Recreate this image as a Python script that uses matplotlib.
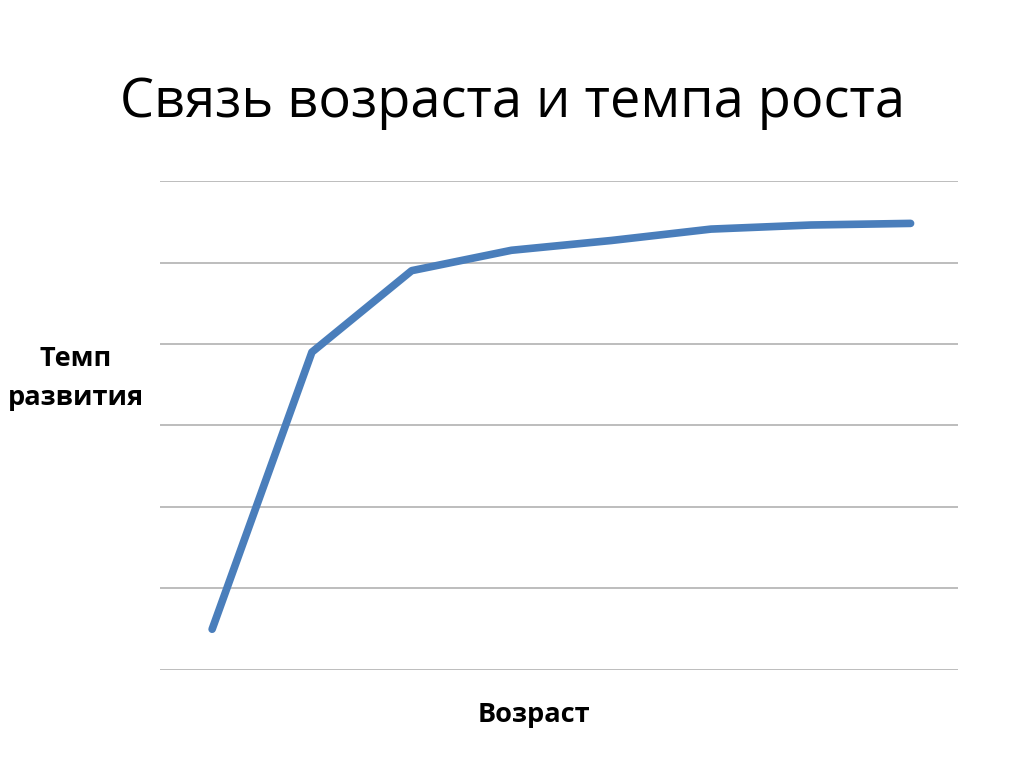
import numpy as np
import matplotlib
matplotlib.use('Agg')
from matplotlib import pyplot as plt

plt.rcParams['font.family'] = ['Open Sans', 'DejaVu Sans']

# данные кривой (значения по оси, без подписей делений)
ages = np.arange(1, 9)
rate = [0.5, 3.9, 4.9, 5.15, 5.27, 5.41, 5.46, 5.48]
y_ticks = [0, 1, 2, 3, 4, 5, 6]

fig = plt.figure(figsize=(10.24, 7.67), dpi=100)
ax = fig.add_axes([0.156, 0.1265, 0.78, 0.6375])

ax.plot(ages, rate, color='#4a7ebb', lw=5.5, solid_capstyle='round', solid_joinstyle='round', zorder=3)

ax.set_xlim(0.475, 8.48)
ax.set_ylim(0, 6)
ax.set_yticks(y_ticks)
ax.set_xticks([])
ax.yaxis.grid(True, color='#b8b8b8', lw=1.3)
ax.tick_params(axis='y', length=0, labelleft=False)
for s in ax.spines.values():
    s.set_visible(False)

fig.text(0.5, 0.867, 'Связь возраста и темпа роста', ha='center', va='center', fontsize=39)
fig.text(0.074, 0.507, 'Темп\nразвития', ha='center', va='center', fontsize=19.5,
         fontweight='bold', linespacing=1.65)
fig.text(0.521, 0.068, 'Возраст', ha='center', va='center', fontsize=19.5, fontweight='bold')

fig.savefig('out.png', dpi=100)
